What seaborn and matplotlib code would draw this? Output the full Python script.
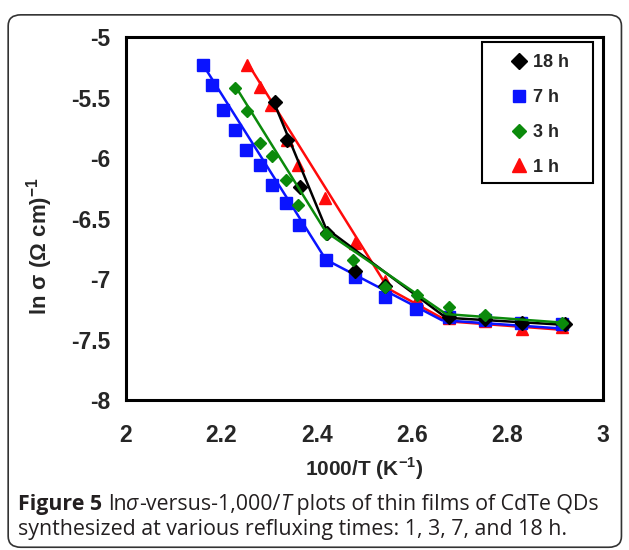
import numpy as np
import pandas as pd
import seaborn as sns
import matplotlib.pyplot as plt
from matplotlib.patches import FancyBboxPatch, Rectangle
from matplotlib.lines import Line2D

# data points (1000/T, ln sigma)
x_18h = [2.312, 2.338, 2.365, 2.421, 2.480, 2.543, 2.677, 2.753, 2.830, 2.920]
y_18h = [-5.54, -5.85, -6.24, -6.62, -6.93, -7.06, -7.31, -7.33, -7.36, -7.37]

x_7h = [2.161, 2.180, 2.203, 2.229, 2.252, 2.281, 2.306, 2.335, 2.363, 2.419,
        2.480, 2.543, 2.608, 2.677, 2.753, 2.828, 2.914]
y_7h = [-5.23, -5.40, -5.60, -5.77, -5.93, -6.06, -6.22, -6.37, -6.55, -6.84,
        -6.98, -7.15, -7.25, -7.31, -7.34, -7.36, -7.37]

x_3h = [2.229, 2.254, 2.281, 2.306, 2.335, 2.361, 2.419, 2.476, 2.543, 2.610,
        2.677, 2.753, 2.914]
y_3h = [-5.42, -5.61, -5.88, -5.98, -6.18, -6.39, -6.63, -6.84, -7.07, -7.13,
        -7.23, -7.30, -7.36]

x_1h = [2.254, 2.281, 2.304, 2.338, 2.361, 2.417, 2.480, 2.543, 2.610, 2.677,
        2.753, 2.830, 2.914]
y_1h = [-5.23, -5.41, -5.56, -5.85, -6.06, -6.33, -6.70, -7.02, -7.17, -7.32,
        -7.35, -7.41, -7.40]

# piecewise linear fits drawn through the points
fit_x_18h = [2.308, 2.419, 2.671, 2.925]
fit_y_18h = [-5.52, -6.58, -7.32, -7.38]
fit_x_7h = [2.160, 2.419, 2.662, 2.916]
fit_y_7h = [-5.22, -6.84, -7.34, -7.41]
fit_x_3h = [2.229, 2.419, 2.671, 2.914]
fit_y_3h = [-5.405, -6.61, -7.29, -7.36]
fit_x_1h = [2.254, 2.550, 2.675, 2.916]
fit_y_1h = [-5.21, -7.08, -7.35, -7.42]

labels = ['18 h', '7 h', '3 h', '1 h']
colors = {'18 h': 'black', '7 h': '#0a14ff', '3 h': '#0b8a0b', '1 h': '#ff0a0a'}
markers = {'18 h': 'D', '7 h': 's', '3 h': 'D', '1 h': '^'}
msizes = {'18 h': 7, '7 h': 8, '3 h': 6, '1 h': 9}

pts = {'18 h': (x_18h, y_18h), '7 h': (x_7h, y_7h), '3 h': (x_3h, y_3h), '1 h': (x_1h, y_1h)}
fits = {'18 h': (fit_x_18h, fit_y_18h), '7 h': (fit_x_7h, fit_y_7h),
        '3 h': (fit_x_3h, fit_y_3h), '1 h': (fit_x_1h, fit_y_1h)}

sns.set_style('white')
plt.rcParams['font.family'] = ['Liberation Sans', 'DejaVu Sans']
plt.rcParams['mathtext.fontset'] = 'custom'
plt.rcParams['mathtext.rm'] = 'Liberation Sans:bold'
plt.rcParams['mathtext.bf'] = 'Liberation Sans:bold'
tick_font = ['Liberation Sans Narrow', 'Liberation Sans']

fig = plt.figure(figsize=(6.29, 5.5), dpi=100)
ax = fig.add_axes([0.2003, 0.2727, 0.7584, 0.66])

# draw order as in the original: red, blue, black, green on top
for lab in ['1 h', '7 h', '18 h', '3 h']:
    fx, fy = fits[lab]
    sns.lineplot(x=fx, y=fy, ax=ax, color=colors[lab], lw=1.8, sort=False,
                 estimator=None, legend=False)
    px, py = pts[lab]
    ax.plot(px, py, ls='none', marker=markers[lab], ms=msizes[lab],
            color=colors[lab], mec=colors[lab])

ax.set_xlim(2, 3)
ax.set_ylim(-8, -5)
xt = np.arange(2, 3.01, 0.2)
yt = np.arange(-8, -4.99, 0.5)
ax.set_xticks(xt)
ax.set_xticklabels(['%g' % round(v, 1) for v in xt])
ax.set_yticks(yt)
ax.set_yticklabels(['%g' % v for v in yt])
ax.tick_params(direction='out', length=6, width=1.5)
ax.tick_params(axis='x', pad=11)
ax.tick_params(axis='y', pad=5)
for lbl in ax.get_xticklabels() + ax.get_yticklabels():
    lbl.set_fontweight('bold')
    lbl.set_family(tick_font)
    lbl.set_fontsize(16.5)
for sp in ax.spines.values():
    sp.set_linewidth(2.2)
    sp.set_color('black')

ax.set_xlabel(r'1000/T (K$^{-1}$)', fontsize=15, fontweight='bold', labelpad=6)
ax.set_ylabel(r'ln σ (Ω cm)$^{-1}$', fontsize=16, fontweight='bold')
ax.yaxis.set_label_coords(-0.149, 0.424)

# legend: box drawn separately because the original has a wide left margin
handles = [Line2D([], [], ls='none', marker=markers[l], ms=msizes[l] + 1,
                  color=colors[l]) for l in labels]
leg = ax.legend(handles, labels, loc='upper left', bbox_to_anchor=(0.805, 0.952),
                frameon=False, handlelength=1.0, handletextpad=0.25,
                labelspacing=0.98, borderpad=0, borderaxespad=0,
                prop={'weight': 'bold', 'size': 13})
ax.add_patch(Rectangle((0.746, 0.598), 0.233, 0.388, transform=ax.transAxes,
                       fill=False, edgecolor='black', lw=1.5, zorder=5))

# rounded frame around the figure
box = FancyBboxPatch((0.013, 0.005), 0.975, 0.968, boxstyle='round,pad=0,rounding_size=0.02',
                     transform=fig.transFigure, fill=False, edgecolor='#333333', lw=1.2)
fig.patches.append(box)

# caption, written piece by piece so bold/italic can mix
cap = '#231f20'
fig.canvas.draw()
rend = fig.canvas.get_renderer()


def line_of_text(pieces, x0, y0):
    x = x0
    for txt, w, st in pieces:
        t = fig.text(x, y0, txt, fontsize=15.4, fontweight=w, style=st, color=cap,
                     family='Open Sans', transform=None, va='baseline')
        bb = t.get_window_extent(renderer=rend)
        x = bb.x1


line_of_text([('Figure 5 ', 'bold', 'normal'), ('ln', 'normal', 'normal'),
              ('σ', 'normal', 'italic'), ('-versus-1,000/', 'normal', 'normal'),
              ('T', 'normal', 'italic'),
              (' plots of thin films of CdTe QDs', 'normal', 'normal')], 18, 550 - 510)
line_of_text([('synthesized at various refluxing times: 1, 3, 7, and 18 h.', 'normal', 'normal')],
             18, 550 - 535)

fig.savefig('out.png', dpi=100)
